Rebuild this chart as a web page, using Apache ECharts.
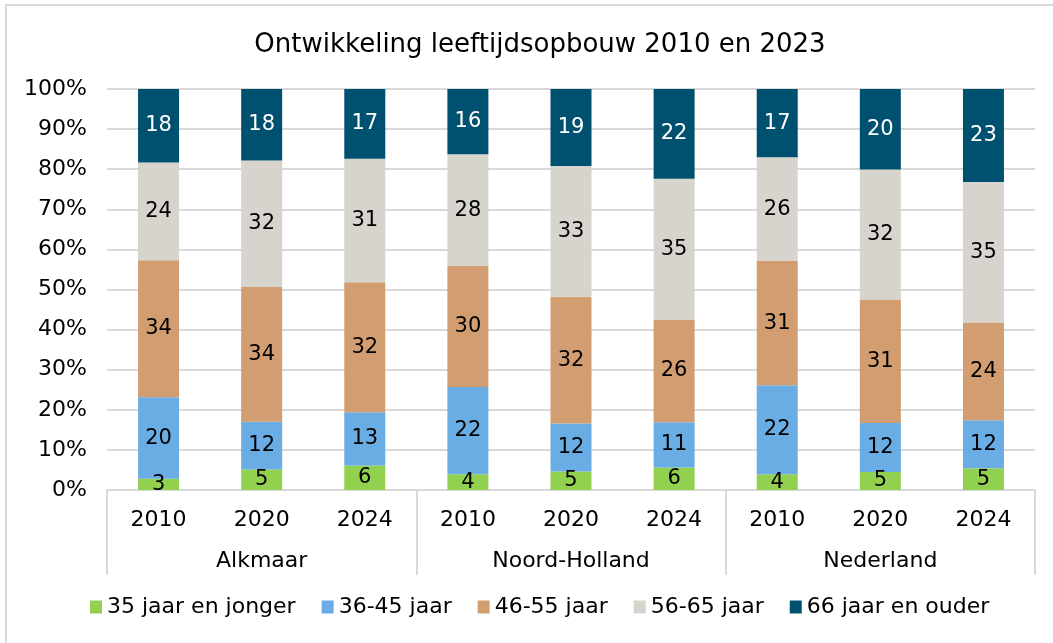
<!DOCTYPE html>
<html>
<head>
<meta charset="utf-8">
<title>Ontwikkeling leeftijdsopbouw</title>
<script src="https://cdn.jsdelivr.net/npm/echarts@6/dist/echarts.min.js"></script>
<style>
    html, body { margin: 0; padding: 0; background: #fff; }
    #frame {
        position: absolute; left: 5px; top: 4px; width: 1100px; height: 700px;
        border-left: 2px solid #d9d9d9; border-top: 2px solid #d9d9d9;
    }
    #chart { position: absolute; left: 0; top: 0; width: 1053px; height: 643px; }
</style>
</head>
<body>
<div id="frame"></div>
<div id="chart"></div>
<script>
    // categorieen
    const years = ["2010", "2020", "2024", "2010", "2020", "2024", "2010", "2020", "2024"];
    const regions = ["Alkmaar", "Noord-Holland", "Nederland"];
    const seriesNames = ["35 jaar en jonger", "36-45 jaar", "46-55 jaar", "56-65 jaar", "66 jaar en ouder"];

    // aandeel per leeftijdsgroep (%)
    const jonger35 = [2.8, 5.1, 6.1, 3.9, 4.6, 5.6, 3.9, 4.5, 5.4];
    const jaar3645 = [20.3, 11.9, 13.3, 21.8, 12.0, 11.3, 22.2, 12.2, 12.0];
    const jaar4655 = [34.2, 33.6, 32.4, 30.2, 31.6, 25.6, 31.0, 30.8, 24.4];
    const jaar5665 = [24.4, 31.6, 30.8, 27.8, 32.6, 35.1, 25.9, 32.4, 35.0];
    const ouder66 = [18.3, 17.8, 17.4, 16.3, 19.2, 22.4, 17.0, 20.1, 23.2];

    const colors = ["#92d050", "#6aace4", "#d29d70", "#d6d4cc", "#00516f"];
    const font = "DejaVu Sans";

    function makeSeries(name, data, i) {
        return {
            name: name,
            type: "bar",
            stack: "totaal",
            barWidth: 41,
            data: data,
            itemStyle: { color: colors[i] },
            label: {
                show: true,
                position: "inside",
                fontFamily: font,
                fontSize: 21,
                color: i === 4 ? "#ffffff" : "#000000",
                formatter: (p) => Math.round(p.value)
            }
        };
    }

    let chart = echarts.init(document.getElementById("chart"));
    let option = {
        animation: false,
        title: {
            text: "Ontwikkeling leeftijdsopbouw 2010 en 2023",
            left: 535,
            textAlign: "center",
            top: 27,
            textStyle: { fontFamily: font, fontSize: 26, fontWeight: "normal", color: "#000" }
        },
        legend: {
            bottom: 20,
            left: 85,
            icon: "rect",
            itemWidth: 12,
            itemHeight: 13,
            itemGap: 26,
            textStyle: { fontFamily: font, fontSize: 22, color: "#000" },
            data: seriesNames
        },
        grid: { left: 107, right: 18, top: 89, bottom: 153 },
        xAxis: [
            {
                type: "category",
                data: years,
                axisLine: { lineStyle: { color: "#d9d9d9", width: 2 } },
                axisTick: { show: false },
                axisLabel: { fontFamily: font, fontSize: 22, color: "#000", margin: 19 }
            },
            {
                type: "category",
                data: regions,
                position: "bottom",
                axisLine: { show: false },
                axisTick: { show: true, length: 85, lineStyle: { color: "#d9d9d9", width: 2 } },
                axisLabel: { fontFamily: font, fontSize: 22, color: "#000", margin: 60 }
            }
        ],
        yAxis: {
            type: "value",
            min: 0,
            max: 100,
            interval: 10,
            axisLine: { show: false },
            axisTick: { show: false },
            splitLine: { lineStyle: { color: "#d9d9d9", width: 2 } },
            axisLabel: { formatter: "{value}%", fontFamily: font, fontSize: 22, color: "#000", margin: 20 }
        },
        series: [
            makeSeries(seriesNames[0], jonger35, 0),
            makeSeries(seriesNames[1], jaar3645, 1),
            makeSeries(seriesNames[2], jaar4655, 2),
            makeSeries(seriesNames[3], jaar5665, 3),
            makeSeries(seriesNames[4], ouder66, 4)
        ]
    };
    chart.setOption(option);
</script>
</body>
</html>
